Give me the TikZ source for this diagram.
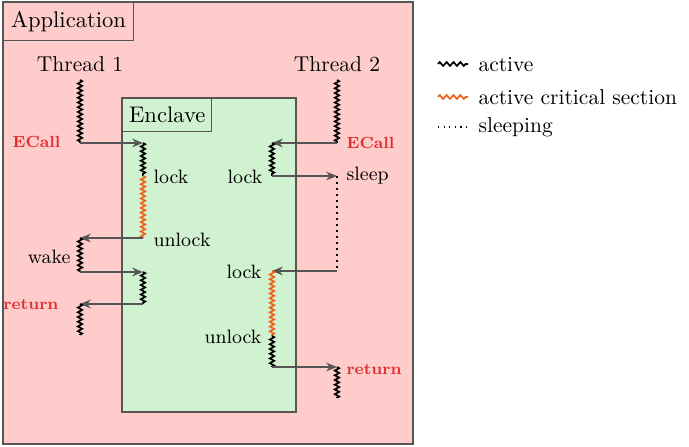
\documentclass[tikz,border=0pt]{standalone}
\usetikzlibrary{decorations.pathmorphing,arrows.meta}
\definecolor{apppink}{RGB}{255,204,204}
\definecolor{enclgreen}{RGB}{208,242,208}
\definecolor{framegray}{RGB}{85,85,85}
\definecolor{crit}{RGB}{240,100,30}
\definecolor{callred}{RGB}{225,45,45}
\begin{document}
\begin{tikzpicture}[x=0.4651pt,y=-0.4651pt,
  box/.style={draw=framegray,line width=0.6pt},
  act/.style={decorate,decoration={zigzag,segment length=2.2pt,amplitude=1pt},line width=0.8pt,black},
  critact/.style={act,draw=crit},
  sleepline/.style={dotted,line width=0.8pt,black},
  call/.style={-{Stealth[length=5pt,width=4pt]},draw=framegray,line width=0.9pt},
  lbl/.style={font=\small,inner sep=1pt},
  redlbl/.style={font=\fontsize{7.5}{9}\selectfont\bfseries,text=callred,inner sep=1pt}]
\useasboundingbox (0,0) rectangle (689,447);
% containers
\draw[box,fill=apppink] (3,2) rectangle (413,444);
\node[box,anchor=north west,inner xsep=3.5pt,inner ysep=4pt,font=\fontsize{10.5}{12}\selectfont] (app) at (3,2) {Application};
\draw[box,fill=enclgreen] (122,98) rectangle (296,412);
\node[box,anchor=north west,inner xsep=3pt,inner ysep=4pt,font=\fontsize{10.5}{12}\selectfont] (encl) at (122,98) {Enclave};
% thread titles
\node (t1) at (80,64) {Thread 1};
\node (t2) at (337,64) {Thread 2};
% thread 1 coordinates
\coordinate (a0) at (80,80);
\coordinate (a1) at (80,143);
\coordinate (b0) at (143,143);
\coordinate (b1) at (143,176);
\coordinate (b2) at (143,238);
\coordinate (a2) at (80,238);
\coordinate (a3) at (80,272);
\coordinate (b3) at (143,272);
\coordinate (b4) at (143,304);
\coordinate (a4) at (80,304);
\coordinate (a5) at (80,335);
% thread 2 coordinates
\coordinate (c0) at (337,80);
\coordinate (c1) at (337,143);
\coordinate (d0) at (272,143);
\coordinate (d1) at (272,176);
\coordinate (c2) at (337,176);
\coordinate (c3) at (337,271);
\coordinate (d2) at (272,271);
\coordinate (d3) at (272,336);
\coordinate (d4) at (272,367);
\coordinate (c4) at (337,367);
\coordinate (c5) at (337,398);
% thread 1 activity
\draw[act] (a0) -- (a1);
\draw[call] (a1) -- (b0);
\draw[act] (b0) -- (b1);
\draw[critact] (b1) -- (b2);
\draw[call] (b2) -- (a2);
\draw[act] (a2) -- (a3);
\draw[call] (a3) -- (b3);
\draw[act] (b3) -- (b4);
\draw[call] (b4) -- (a4);
\draw[act] (a4) -- (a5);
% thread 2 activity
\draw[act] (c0) -- (c1);
\draw[call] (c1) -- (d0);
\draw[act] (d0) -- (d1);
\draw[call] (d1) -- (c2);
\draw[sleepline] (c2) -- (c3);
\draw[call] (c3) -- (d2);
\draw[critact] (d2) -- (d3);
\draw[act] (d3) -- (d4);
\draw[call] (d4) -- (c4);
\draw[act] (c4) -- (c5);
% labels
\node[redlbl,anchor=east] (e1) at (63,142) {ECall};
\node[lbl,anchor=west] (l1) at (151,177) {lock};
\node[lbl,anchor=west] (u1) at (151,240) {unlock};
\node[lbl,anchor=east] (w1) at (73,257) {wake};
\node[redlbl,anchor=east] (r1) at (61,304) {return};
\node[redlbl,anchor=west] (e2) at (344,143) {ECall};
\node[lbl,anchor=east] (l2) at (265,177) {lock};
\node[lbl,anchor=west] (s2) at (344,176) {sleep};
\node[lbl,anchor=east] (l3) at (264,272) {lock};
\node[lbl,anchor=east] (u2) at (264,337) {unlock};
\node[redlbl,anchor=west] (r2) at (344,369) {return};
% legend
\coordinate (g1a) at (438,64); \coordinate (g1b) at (468,64);
\coordinate (g2a) at (438,97); \coordinate (g2b) at (468,97);
\coordinate (g3a) at (438,127); \coordinate (g3b) at (468,127);
\draw[act,decoration={zigzag,segment length=3.2pt,amplitude=0.9pt}] (g1a) -- (g1b);
\draw[critact,decoration={zigzag,segment length=3.2pt,amplitude=0.9pt}] (g2a) -- (g2b);
\draw[sleepline,line width=0.6pt] (g3a) -- (g3b);
\node[anchor=west,inner sep=1pt] (k1) at (476,65) {active};
\node[anchor=west,inner sep=1pt] (k2) at (476,97) {active critical section};
\node[anchor=west,inner sep=1pt] (k3) at (476,127) {sleeping};
\end{tikzpicture}
\end{document}
